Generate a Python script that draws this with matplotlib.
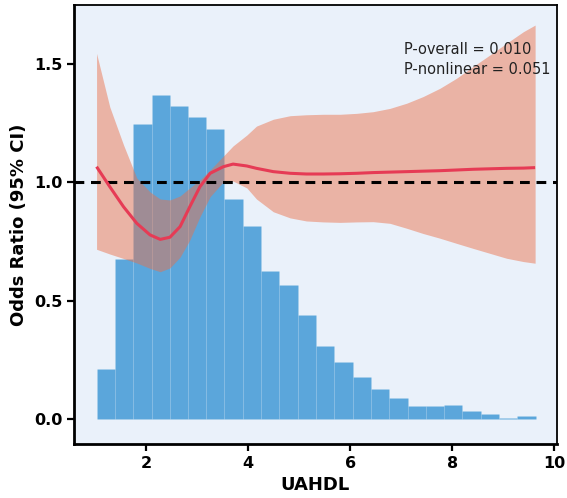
import numpy as np
import matplotlib
matplotlib.use("Agg")
from matplotlib import pyplot as plt


# histogram of UAHDL (scaled to the OR axis)
bin_edges = [1.02, 1.38, 1.74, 2.10, 2.46, 2.82, 3.17, 3.53, 3.89, 4.25, 4.61, 4.97, 5.33,
             5.69, 6.05, 6.41, 6.77, 7.13, 7.48, 7.84, 8.20, 8.56, 8.92, 9.28, 9.64]
bin_heights = [0.211, 0.676, 1.247, 1.371, 1.325, 1.278, 1.225, 0.931, 0.814, 0.625, 0.567, 0.439,
               0.307, 0.239, 0.176, 0.124, 0.087, 0.052, 0.052, 0.058, 0.031, 0.018, 0.003, 0.011]

# restricted cubic spline: odds ratio and 95% CI
uahdl = [1.02, 1.28, 1.55, 1.81, 2.07, 2.27, 2.46, 2.66, 2.85, 3.05, 3.25, 3.51, 3.70, 3.97, 4.16, 4.49,
         4.82, 5.14, 5.47, 5.80, 6.13, 6.45, 6.78, 7.11, 7.43, 7.76, 8.09, 8.41, 8.74, 9.07, 9.40, 9.63]
odds_ratio = [1.067, 0.982, 0.897, 0.827, 0.778, 0.759, 0.768, 0.813, 0.897, 0.982, 1.039, 1.067, 1.078,
              1.070, 1.060, 1.046, 1.039, 1.036, 1.036, 1.037, 1.039, 1.042, 1.044, 1.046, 1.048, 1.050,
              1.053, 1.056, 1.058, 1.060, 1.061, 1.063]
ci_upper = [1.547, 1.320, 1.159, 1.019, 0.960, 0.930, 0.926, 0.943, 0.977, 1.011, 1.053, 1.112, 1.155,
            1.201, 1.239, 1.268, 1.283, 1.287, 1.289, 1.289, 1.293, 1.300, 1.314, 1.336, 1.364, 1.399,
            1.442, 1.491, 1.540, 1.590, 1.639, 1.667]
ci_lower = [0.717, 0.697, 0.678, 0.659, 0.636, 0.622, 0.638, 0.684, 0.756, 0.855, 0.940, 1.003, 1.006,
            0.977, 0.930, 0.876, 0.850, 0.837, 0.833, 0.831, 0.833, 0.834, 0.827, 0.806, 0.784, 0.764,
            0.742, 0.721, 0.700, 0.679, 0.665, 0.658]

p_texts = ['P-overall = 0.010', 'P-nonlinear = 0.051']

fig = plt.figure(figsize=(5.67, 4.98), dpi=100)
ax = fig.add_axes([0.1305, 0.1084, 0.851, 0.8806])
ax.set_facecolor('#EAF1FA')

edges = np.array(bin_edges)
ax.bar(edges[:-1], bin_heights, width=np.diff(edges), align='edge', color='#5BA6DB',
       edgecolor=(1, 1, 1, 0.06), linewidth=0.5, zorder=1)
ax.fill_between(uahdl, ci_lower, ci_upper, color='#EA7049', alpha=0.48, linewidth=0, zorder=2)
ax.axhline(1.0, color='black', linestyle=(0, (3.2, 2.2)), linewidth=2.2, zorder=3)
ax.plot(uahdl, odds_ratio, color='#E63B55', linewidth=2.2, solid_joinstyle='round',
        solid_capstyle='butt', zorder=4)

ax.text(0.684, 0.900, p_texts[0], transform=ax.transAxes, fontsize=10.5, color='#222222', va='center')
ax.text(0.684, 0.853, p_texts[1], transform=ax.transAxes, fontsize=10.5, color='#222222', va='center')

ax.set_xlim(0.577, 10.05)
ax.set_ylim(-0.108, 1.75)
ax.set_yticks([0.0, 0.5, 1.0, 1.5])
ax.set_xticks([2, 4, 6, 8, 10])

for side in ('left', 'bottom'):
    ax.spines[side].set_linewidth(2.0)
for side in ('top', 'right'):
    ax.spines[side].set_linewidth(1.3)

ax.tick_params(axis='both', length=5, width=1.6, labelsize=11.5)
for lbl in ax.get_xticklabels() + ax.get_yticklabels():
    lbl.set_fontweight('bold')

ax.set_xlabel('UAHDL', fontsize=13, fontweight='bold')
ax.set_ylabel('Odds Ratio (95% CI)', fontsize=13, fontweight='bold')

fig.savefig('out.png', dpi=100)
